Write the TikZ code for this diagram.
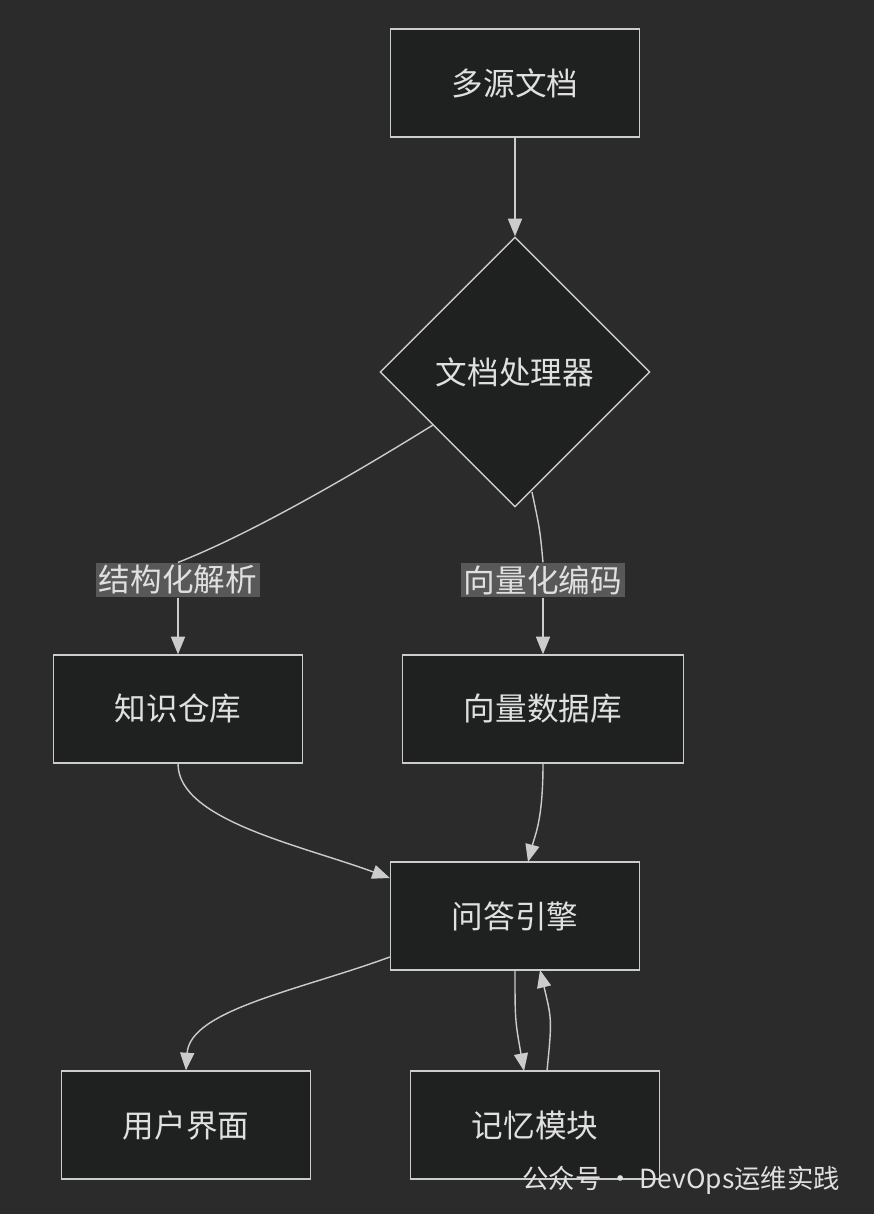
\documentclass[tikz,border=0pt]{standalone}
\usepackage{fontspec}
\newfontfamily\cjk{Noto Sans CJK SC}
\usetikzlibrary{shapes.geometric,arrows.meta}
\definecolor{bgc}{HTML}{2B2B2B}
\definecolor{boxc}{HTML}{1F2020}
\definecolor{linec}{HTML}{CCCCCC}
\definecolor{txtc}{HTML}{E0E0E0}
\definecolor{labc}{HTML}{585858}
\tikzset{
  box/.style={draw=linec, fill=boxc, line width=0.8pt, minimum width=4.98cm, minimum height=2.16cm, text=txtc, font=\cjk\fontsize{18}{21}\selectfont},
  dia/.style={draw=linec, fill=boxc, line width=0.8pt, diamond, minimum width=5.4cm, minimum height=5.4cm, inner sep=0pt, text=txtc, font=\cjk\fontsize{18}{21}\selectfont},
  lab/.style={fill=labc, text=txtc, inner sep=1.5pt, font=\cjk\fontsize{18}{21}\selectfont},
  conn/.style={draw=linec, line width=0.8pt, -{Triangle[length=10pt,width=8pt]}}
}
\begin{document}
\begin{tikzpicture}[x=0.02cm, y=-0.02cm]
  \fill[bgc] (0,0) rectangle (874,1214);
  \useasboundingbox (0,0) rectangle (874,1214);
  \node[box] (src) at (515,83) {多源文档};
  \node[dia] (proc) at (515,372) {文档处理器};
  \node[box] (kb) at (178,709) {知识仓库};
  \node[box, minimum width=5.62cm] (vdb) at (543,709) {向量数据库};
  \node[box] (qa) at (515,916) {问答引擎};
  \node[box] (ui) at (186,1125) {用户界面};
  \node[box] (mem) at (535,1125) {记忆模块};
  \node[lab] (l1) at (178,580) {结构化解析};
  \node[lab] (l2) at (543,580) {向量化编码};
  \coordinate (p1) at (433,425);
  \coordinate (p2) at (532,492);
  % connectors
  \draw[conn] (src) -- (proc);
  \draw[draw=linec, line width=0.8pt] (p1) .. controls (320,495) and (235,540) .. (l1.north);
  \draw[conn] (l1.south) .. controls (178,620) .. (kb.north);
  \draw[draw=linec, line width=0.8pt] (p2) .. controls (540,530) .. (l2.north);
  \draw[conn] (l2) -- (vdb);
  \draw[conn] (kb.south) .. controls (178,820) and (300,845) .. (qa.west |- 0,878);
  \draw[conn] (vdb.south) .. controls (543,820) and (535,835) .. (528,862);
  \draw[conn] (qa.west |- 0,957) .. controls (300,990) and (190,1010) .. (ui.north);
  \draw[conn] (515,970) .. controls (515,1020) .. (524,1071);
  \draw[conn] (547,1071) .. controls (552,1020) .. (540,970);
  \node[text=txtc, font=\cjk\fontsize{15}{17}\selectfont, anchor=east] (wm) at (846,1180) {公众号 · DevOps运维实践};
\end{tikzpicture}
\end{document}
